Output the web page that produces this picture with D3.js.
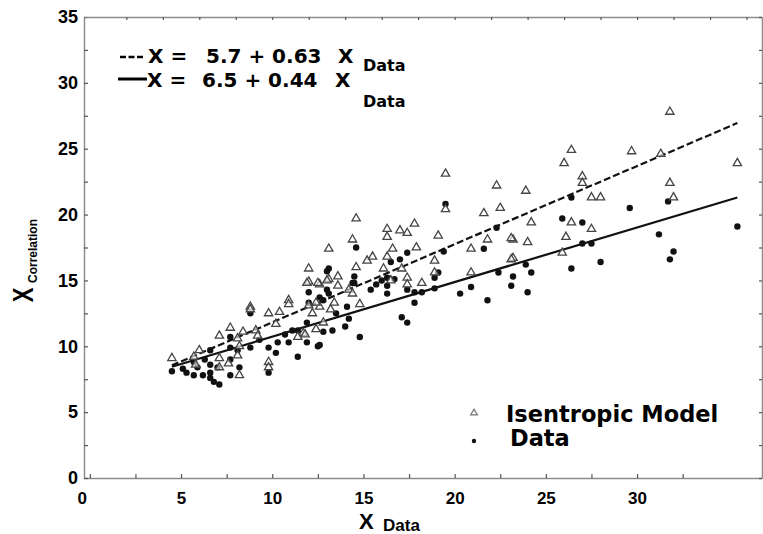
<!DOCTYPE html>
<html>
<head>
<meta charset="utf-8">
<script src="https://cdn.jsdelivr.net/npm/d3@7"></script>
<style>
  body { margin: 0; background: #fff; }
  svg { display: block; }
</style>
</head>
<body>
<div id="chart"></div>
<script>
// values: [X_Data, X_Correlation]
const isentropicModel = [
  [31.8,27.8],[26.4,24.9],[29.7,24.8],[31.3,24.6],[26.0,23.9],[27.0,22.9],[27.0,22.4],[23.9,21.8],
  [31.8,22.4],[32.0,21.3],[27.5,21.3],[28.0,21.3],[35.5,23.9],[22.5,20.5],[24.2,19.4],[26.4,19.4],
  [27.5,18.9],[23.2,18.1],[24.0,17.9],[26.1,18.3],[25.9,17.1],[23.2,16.7],
  [19.5,23.1],[22.3,22.2],[14.6,19.7],[16.3,18.9],[17.0,18.8],[17.4,18.6],[17.8,19.3],[14.4,18.1],
  [16.3,18.3],[19.5,20.4],[19.1,18.4],[21.6,20.1],[13.1,17.4],[16.6,17.4],[17.9,17.5],[20.9,17.4],
  [21.8,18.1],[23.1,18.2],[23.1,16.6],[12.0,15.9],[14.6,16.0],[15.2,16.5],[15.5,16.8],[16.3,16.8],
  [16.1,15.9],[17.1,15.9],[18.9,16.5],[18.9,15.6],[20.9,15.6],[12.0,14.9],[12.6,14.7],[13.1,15.1],
  [13.6,15.3],[13.6,14.6],[14.2,14.3],[14.4,14.0],[16.5,15.0],[17.4,15.2],[17.4,14.7],[18.2,14.8],
  [14.8,13.2],[13.4,13.3],[12.6,13.0],[12.2,12.5],[12.0,13.1],[12.8,11.8],[11.7,11.0],
  [13.0,15.0],[11.9,14.8],[12.5,14.8],[10.9,13.5],[10.9,13.2],[12.4,13.3],[13.2,12.8],[8.8,13.0],
  [8.8,12.8],[9.8,12.5],[10.4,12.6],[7.7,11.4],[7.1,10.8],[8.1,10.6],[8.4,11.1],[9.1,11.2],
  [9.2,10.8],[10.2,11.7],[11.4,10.7],[11.8,10.9],[12.4,11.3],[9.8,8.8],[9.8,8.4],[4.5,9.1],
  [6.0,9.7],[5.8,8.6],[7.1,9.1],[7.6,8.7],[8.1,9.3],[8.2,7.8],[5.7,9.2],[8.2,10.0],[7.1,8.4]
];

const measuredData = [
  [26.4,21.3],[25.9,19.7],[27.0,19.4],[29.6,20.5],[31.7,21.0],[31.2,18.5],[32.0,17.2],[31.8,16.6],
  [35.5,19.1],[27.5,17.8],[27.0,17.8],[28.0,16.4],[26.4,15.9],[23.9,16.2],[24.2,15.6],[23.2,15.3],
  [19.5,20.8],[14.6,17.5],[17.4,17.1],[19.4,17.2],[21.6,17.4],[22.3,19.0],[17.0,16.6],[16.5,16.4],
  [13.1,15.9],[14.5,15.3],[16.3,15.2],[16.7,15.1],[16.0,15.0],[14.5,14.8],[15.4,14.3],[15.7,14.7],
  [16.3,14.6],[16.3,14.0],[17.4,14.3],[17.8,14.1],[18.2,14.1],[18.9,15.2],[19.1,15.6],[18.9,14.4],
  [20.3,14.0],[20.9,14.5],[21.8,13.5],[22.4,15.6],[23.1,14.6],[24.0,14.1],[17.8,13.3],[17.1,12.2],
  [17.4,11.8],[14.8,10.7],[14.2,12.1],[13.3,11.2],[12.8,11.1],[12.5,10.0],[12.0,13.3],[12.0,14.1],
  [13.1,14.0],[12.6,13.7],[14.1,13.0],[13.5,12.5],
  [4.5,8.1],[5.1,8.3],[5.3,8.0],[5.7,7.8],[6.2,7.8],[6.6,7.6],[5.9,8.4],[6.6,8.6],[6.6,8.0],
  [7.0,8.4],[6.6,9.7],[7.7,10.7],[7.7,7.8],[8.2,8.4],[8.1,9.7],[8.8,9.9],[7.7,9.9],[8.8,12.5],
  [9.3,10.5],[9.8,9.9],[10.3,10.3],[10.2,9.5],[10.9,10.3],[11.4,9.2],[11.9,11.8],[11.9,10.3],
  [11.1,11.2],[13.0,15.7],[13.0,14.3],[12.8,13.5],[12.6,10.1],[14.0,11.5],[14.4,14.8],[9.8,8.0],
  [6.3,9.0],[5.7,8.8],[7.1,7.1],[6.8,7.3],[7.7,9.0],[10.7,10.9],[11.4,11.2]
];

// fitted lines as drawn (end points)
const dashedFit = [[4.5, 8.55], [35.5, 26.95]];
const solidFit = [[4.5, 8.45], [35.5, 21.3]];

const xTicks = d3.range(0, 33, 2.5);
const yTicks = d3.range(0, 35.1, 2.5);
const topTicks = d3.range(2, 37, 2);

const width = 763, height = 534;
const x = d3.scaleLinear().domain([-0.32, 36.85]).range([84, 762]);
const y = d3.scaleLinear().domain([0, 35]).range([478, 17]);

const svg = d3.select("#chart").append("svg")
    .attr("width", width)
    .attr("height", height)
    .attr("font-family", "'Liberation Sans', Arial, sans-serif");

const frameColor = "#8c8c8c";

function styleAxis(g) {
  g.select(".domain").attr("stroke", frameColor).attr("stroke-width", 1.5);
  g.selectAll(".tick line").attr("stroke", "#555").attr("stroke-width", 1.2);
  g.selectAll(".tick text").attr("fill", "#000");
}

// bottom axis
svg.append("g")
    .attr("transform", `translate(0,${y(0)})`)
    .call(d3.axisBottom(x).tickValues(xTicks).tickSize(-4).tickSizeOuter(0).tickPadding(14)
      .tickFormat(d => d % 5 === 0 ? d : ""))
    .call(styleAxis)
    .call(g => g.selectAll(".tick text")
      .attr("font-size", 17).attr("font-weight", "bold")
      .attr("dx", d => d === 0 ? -8 : 0));

// left axis
svg.append("g")
    .attr("transform", `translate(${x.range()[0]},0)`)
    .call(d3.axisLeft(y).tickValues(yTicks).tickSize(-4).tickSizeOuter(0).tickPadding(6)
      .tickFormat(d => d % 5 === 0 ? d : ""))
    .call(styleAxis)
    .call(g => g.selectAll(".tick text").attr("font-size", 18).attr("font-weight", "bold"));

// top and right frame with small inward ticks
svg.append("g")
    .attr("transform", `translate(0,${y(35)})`)
    .call(d3.axisTop(x).tickValues(topTicks).tickSize(-3).tickSizeOuter(0).tickFormat(""))
    .call(styleAxis);

svg.append("g")
    .attr("transform", `translate(${x.range()[1]},0)`)
    .call(d3.axisRight(y).tickValues(yTicks).tickSize(-3).tickSizeOuter(0).tickFormat(""))
    .call(styleAxis);

// fitted lines
const line = d3.line().x(d => x(d[0])).y(d => y(d[1]));

svg.append("path")
    .datum(dashedFit)
    .attr("d", line)
    .attr("fill", "none")
    .attr("stroke", "#111")
    .attr("stroke-width", 2.2)
    .attr("stroke-dasharray", "7,3");

svg.append("path")
    .datum(solidFit)
    .attr("d", line)
    .attr("fill", "none")
    .attr("stroke", "#111")
    .attr("stroke-width", 2.2);

// points
const tri = d3.symbol().type(d3.symbolTriangle).size(30);

svg.append("g")
  .selectAll("circle")
  .data(measuredData)
  .join("circle")
    .attr("cx", d => x(d[0]))
    .attr("cy", d => y(d[1]))
    .attr("r", 3.2)
    .attr("fill", "#111");

svg.append("g")
  .selectAll("path")
  .data(isentropicModel)
  .join("path")
    .attr("transform", d => `translate(${x(d[0])},${y(d[1])})`)
    .attr("d", tri)
    .attr("fill", "#fff")
    .attr("fill-opacity", 0.6)
    .attr("stroke", "#444")
    .attr("stroke-width", 1.3);

// equations
const eq = svg.append("g")
    .attr("font-family", "'DejaVu Sans', sans-serif")
    .attr("font-weight", "bold")
    .attr("fill", "#000");

eq.append("line")
    .attr("x1", 120).attr("x2", 143).attr("y1", 57).attr("y2", 57)
    .attr("stroke", "#000").attr("stroke-width", 2.5).attr("stroke-dasharray", "6,2.5");
eq.append("text").attr("x", 148).attr("y", 63).attr("font-size", 20).text("X =");
eq.append("text").attr("x", 206).attr("y", 63).attr("font-size", 20).text("5.7 + 0.63");
eq.append("text").attr("x", 338).attr("y", 63).attr("font-size", 20).text("X");
eq.append("text").attr("x", 363).attr("y", 71).attr("font-size", 16).text("Data");

eq.append("line")
    .attr("x1", 118).attr("x2", 147).attr("y1", 79).attr("y2", 79)
    .attr("stroke", "#000").attr("stroke-width", 3);
eq.append("text").attr("x", 147).attr("y", 87).attr("font-size", 20).text("X =");
eq.append("text").attr("x", 202).attr("y", 87).attr("font-size", 20).text("6.5 + 0.44");
eq.append("text").attr("x", 335).attr("y", 87).attr("font-size", 20).text("X");
eq.append("text").attr("x", 363).attr("y", 107).attr("font-size", 16).text("Data");

// legend
const legend = svg.append("g")
    .attr("font-family", "'DejaVu Sans', sans-serif")
    .attr("font-weight", "bold");

legend.append("path")
    .attr("transform", "translate(474,413)")
    .attr("d", d3.symbol().type(d3.symbolTriangle).size(20))
    .attr("fill", "#fff")
    .attr("stroke", "#777")
    .attr("stroke-width", 1.2);
legend.append("text").attr("x", 506).attr("y", 422).attr("font-size", 22.5).text("Isentropic Model");

legend.append("circle").attr("cx", 474).attr("cy", 441).attr("r", 2.2).attr("fill", "#111");
legend.append("text").attr("x", 510).attr("y", 446).attr("font-size", 22.5).text("Data");

// axis titles
const xTitle = svg.append("text")
    .attr("x", 359).attr("y", 529)
    .attr("font-weight", "bold");
xTitle.append("tspan").attr("font-size", 22).text("X");
xTitle.append("tspan").attr("x", 383).attr("y", 531).attr("font-size", 17).text("Data");

const yTitle = svg.append("g")
    .attr("transform", "translate(33,295) rotate(-90)")
    .attr("font-weight", "bold");
yTitle.append("text")
    .attr("text-anchor", "middle")
    .attr("font-size", 22)
    .attr("transform", "scale(1,1.35)")
    .text("X");
yTitle.append("text")
    .attr("x", 12).attr("y", 4)
    .attr("font-size", 12)
    .text("Correlation");
</script>
</body>
</html>
